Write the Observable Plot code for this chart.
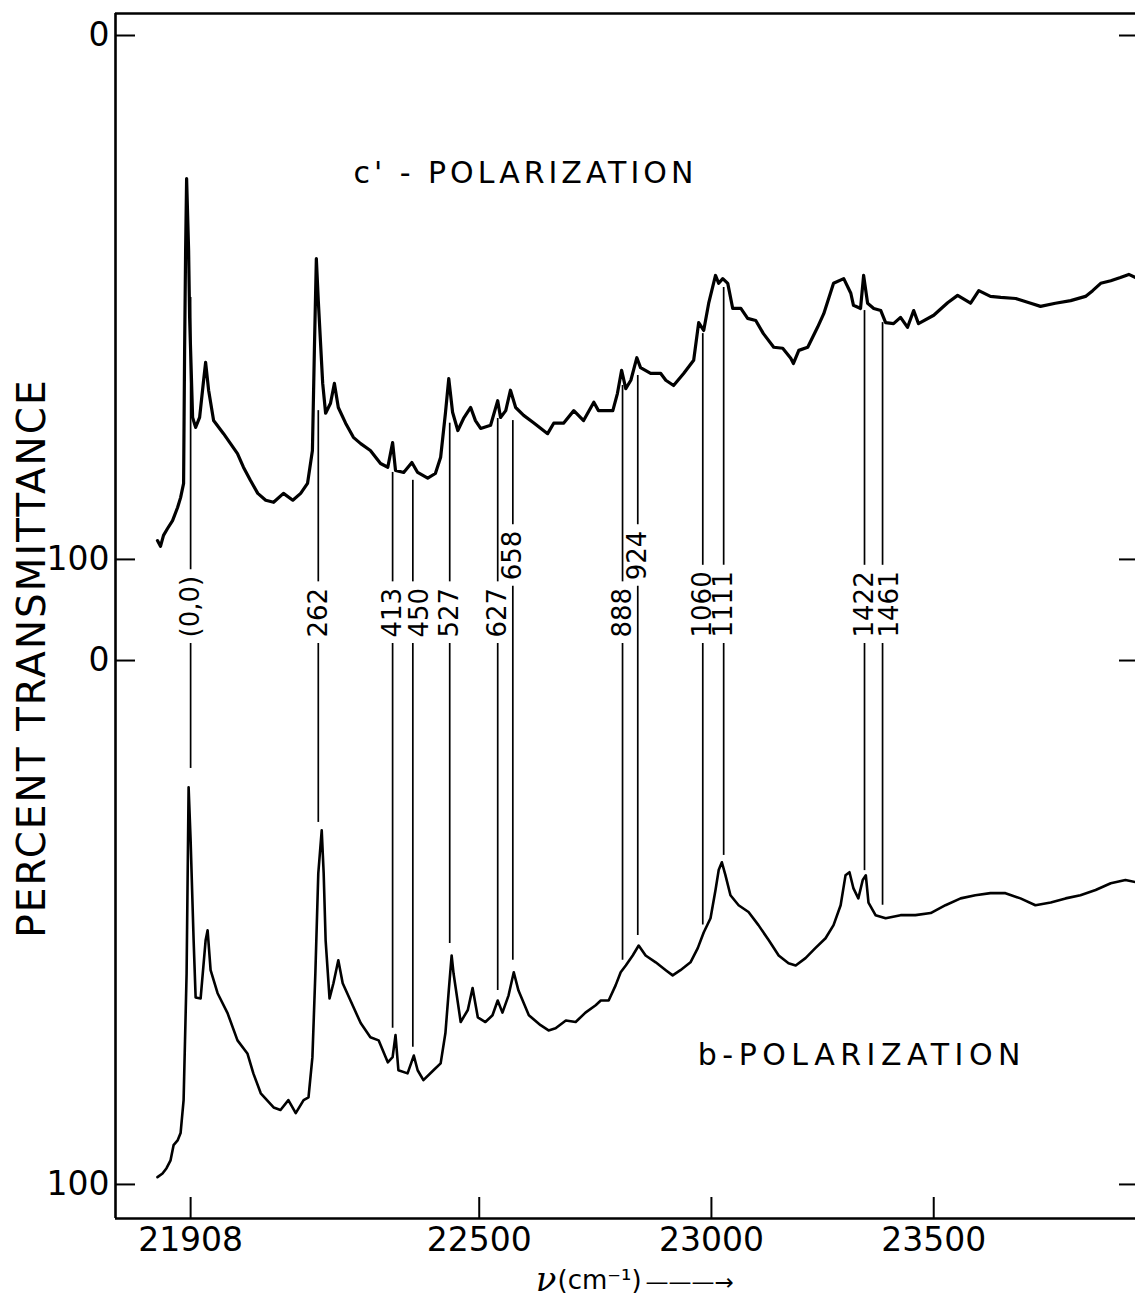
<!DOCTYPE html>
<html><head><meta charset="utf-8">
<script src="https://cdn.jsdelivr.net/npm/d3@7"></script>
<script src="https://cdn.jsdelivr.net/npm/@observablehq/plot@0.6"></script>
<style>
html,body{margin:0;padding:0;background:#fff;}
#chart{width:1135px;height:1303px;overflow:hidden;}
</style></head><body><div id="chart"></div>
<script>
// c'-polarization spectrum: wavenumber (cm^-1) and percent transmittance
const cNu = [21842,21848,21854,21862,21872,21882,21888,21894,21896,21898,21900,21904,21906,21912,21918,21926,21934,21938,21944,21954,21974,21988,22002,22014,22028,22043,22059,22075,22095,22114,22130,22144,22154,22158,22162,22166,22175,22181,22191,22199,22207,22222,22238,22253,22273,22294,22309,22319,22325,22342,22359,22371,22392,22408,22419,22429,22436,22444,22455,22467,22482,22492,22503,22524,22539,22545,22556,22566,22577,22594,22615,22645,22658,22679,22701,22722,22744,22754,22785,22795,22804,22813,22824,22837,22845,22867,22889,22900,22917,22939,22961,22972,22983,22994,23009,23016,23025,23036,23047,23065,23080,23098,23115,23138,23158,23176,23182,23194,23214,23236,23250,23272,23295,23311,23317,23333,23340,23349,23363,23379,23390,23408,23424,23440,23454,23465,23500,23532,23555,23585,23604,23631,23655,23690,23725,23748,23783,23819,23854,23871,23890,23914,23937,23957,23973];
const cT = [96.4,97.5,95.4,94.1,92.6,90.1,88.2,85.5,60.1,41.0,27.3,41.0,53.8,72.9,74.8,72.9,65.8,62.4,67.7,73.5,76.0,77.9,79.8,82.4,84.9,87.4,88.7,89.1,87.4,88.7,87.4,85.5,79.2,60.1,42.6,50.6,66.4,72.1,70.2,66.4,71.0,74.0,76.7,77.9,79.2,81.7,82.4,77.7,83.0,83.4,81.5,83.4,84.5,83.6,80.5,72.1,65.5,71.9,75.4,73.1,71.0,73.5,75.0,74.4,69.7,72.9,71.6,67.7,71.0,72.5,73.9,76.0,74.0,74.0,71.6,73.5,70.0,71.6,71.6,68.3,63.9,67.4,65.8,61.5,63.4,64.5,64.5,65.8,66.8,64.5,62.0,54.8,56.3,51.1,45.8,47.3,46.4,47.3,52.1,52.1,54.0,54.4,56.9,59.5,59.7,61.6,62.6,60.1,59.5,55.7,53.1,47.3,46.4,49.2,51.5,52.1,45.8,51.1,52.1,52.5,54.8,55.0,53.8,55.7,52.5,55.0,53.4,51.0,49.6,51.1,48.7,49.8,50.0,50.2,51.1,51.7,51.1,50.6,49.8,48.7,47.3,46.8,46.2,45.6,46.2];

// b-polarization spectrum
const bNu = [21842,21852,21860,21868,21874,21882,21888,21894,21900,21904,21908,21914,21918,21928,21938,21942,21948,21962,21982,22002,22022,22034,22049,22075,22089,22105,22120,22136,22146,22154,22160,22166,22173,22177,22181,22189,22197,22207,22216,22232,22253,22273,22290,22309,22319,22325,22331,22350,22363,22371,22383,22404,22419,22429,22436,22442,22446,22461,22476,22486,22497,22513,22528,22539,22549,22562,22573,22583,22605,22630,22647,22662,22684,22705,22726,22748,22759,22776,22791,22802,22813,22828,22841,22856,22878,22900,22915,22932,22954,22970,22983,22998,23009,23016,23023,23031,23042,23060,23082,23104,23127,23149,23171,23187,23209,23231,23254,23272,23288,23299,23308,23317,23328,23338,23345,23351,23367,23390,23424,23458,23493,23527,23562,23596,23631,23666,23701,23736,23772,23807,23842,23878,23914,23949,23973];
const bT = [98.6,97.9,96.9,95.4,92.5,91.6,90.2,83.9,59.7,24.2,34.3,53.4,64.3,64.5,53.4,51.5,59.1,63.5,67.3,72.5,75.0,78.8,82.6,85.3,85.8,83.9,86.4,83.9,83.4,75.7,59.7,40.6,32.4,40.6,53.4,64.5,61.6,57.2,61.6,64.9,69.2,71.9,72.5,76.7,75.7,71.5,78.2,78.8,75.4,78.2,80.1,78.2,76.9,71.1,63.0,56.3,59.7,69.0,66.7,62.5,68.1,69.0,67.7,64.9,67.2,63.9,59.5,63.0,67.7,69.6,70.6,70.2,68.7,69.0,67.2,65.8,64.9,64.9,62.0,59.5,58.2,56.3,54.4,56.3,57.6,59.1,60.1,59.1,57.6,54.9,51.9,49.2,43.8,40.0,38.5,41.0,44.8,46.7,48.0,50.5,53.4,56.3,57.8,58.2,56.8,54.9,53.0,50.5,46.7,41.0,40.4,43.5,45.4,41.9,41.0,46.2,48.6,49.2,48.6,48.6,48.2,46.7,45.4,44.8,44.4,44.4,45.4,46.7,46.2,45.4,44.8,43.8,42.5,41.9,42.3];

// vibronic band assignments (shift from origin), band position, and line ends (T upper / T lower)
const bandLabel = ["(0,0)","262","413","450","527","627","658","888","924","1060","1111","1422","1461"];
const bandNu = [21908,22166,22319,22361,22438,22539,22571,22806,22839,22981,23027,23342,23383];
const bandTop = [50.0,71.6,83.4,84.9,74.0,73.1,73.5,66.8,64.9,56.9,48.1,52.5,54.8];
const bandBottom = [20.6,30.9,70.2,73.8,54.0,63.0,57.2,57.2,52.5,50.5,37.2,40.1,46.7];

// panel titles
const polLabel = ["c' - POLARIZATION", "b-POLARIZATION"];
const polNu = [22238, 22970];
const polT = [26.3, 75.4];
const polPanel = [0, 1];

// axes
const xDomain = [21759, 23973];
const xTicks = [21908, 22500, 23000, 23500];
const panelTicks = [0, 100];
const yDomain = [-4.2, 225.8];
const PANEL_OFFSET = 119.3;

// the instrument scale is linear in wavelength
const WL = nu => 1e7 / nu;

const W = 1135, H = 1303, MT = 13, MB = 85;
const pxPerUnit = (H - MT - MB) / (yDomain[1] - yDomain[0]);
const LABEL_FONT = 26;

const upper = cNu.map((nu, i) => ({nu, t: cT[i]}));
const lower = bNu.map((nu, i) => ({nu, t: bT[i]}));
const bands = bandLabel.map((label, i) => ({label, nu: bandNu[i], top: bandTop[i], bottom: bandBottom[i]}));
const pols = polLabel.map((label, i) => ({label, nu: polNu[i], t: polT[i], panel: polPanel[i]}));
const yTickPos = [...panelTicks, ...panelTicks.map(v => v + PANEL_OFFSET)];

const raised = new Set(["658", "924"]);
const shifted = new Set(["450", "1461"]);
const labelY = d => raised.has(d.label) ? 104.0 : 114.9;

// measure label lengths to break the band lines around the text
const ctx = document.createElement("canvas").getContext("2d");
ctx.font = `${LABEL_FONT}px "DejaVu Sans"`;
const gap = 6 / pxPerUnit;
const segments = bands.flatMap(d => {
  const len = ctx.measureText(d.label).width / pxPerUnit;
  const y0 = labelY(d);
  return [
    {nu: d.nu, y1: d.top, y2: y0 - len - gap},
    {nu: d.nu, y1: y0 + gap, y2: d.bottom + PANEL_OFFSET}
  ];
});

const labelStyle = {
  x: d => WL(d.nu), y: labelY, text: "label", rotate: -90,
  textAnchor: "start", lineAnchor: "middle", fontSize: LABEL_FONT, fill: "black"
};

const chart = Plot.plot({
  width: W, height: H,
  marginLeft: 115, marginRight: 0, marginTop: MT, marginBottom: MB,
  style: {fontFamily: "DejaVu Sans", background: "white", color: "black", overflow: "visible"},
  x: {domain: xDomain.map(WL)},
  y: {domain: yDomain, reverse: true},
  marks: [
    Plot.ruleX([xDomain[0]], {x: WL, strokeWidth: 2.6}),
    Plot.ruleY([yDomain[0], yDomain[1]], {strokeWidth: 2.6}),
    Plot.axisX({ticks: xTicks.map(WL), tickSize: -21, strokeWidth: 2, tickFormat: () => "", label: null}),
    Plot.axisX({ticks: xTicks.map(WL), tickSize: 0, tickPadding: 9, fontSize: 33,
      tickFormat: d => String(Math.round(1e7 / d)), label: null}),
    Plot.axisY({anchor: "left", ticks: yTickPos, tickSize: -20, strokeWidth: 2, tickFormat: () => "", label: null}),
    Plot.axisY({anchor: "left", ticks: yTickPos, tickSize: 0, tickPadding: 6, fontSize: 33,
      tickFormat: d => String(Math.round(d >= PANEL_OFFSET ? d - PANEL_OFFSET : d)), label: null}),
    Plot.axisY({anchor: "right", ticks: yTickPos, tickSize: -17, strokeWidth: 2, tickFormat: () => "", label: null}),
    Plot.line(upper, {x: d => WL(d.nu), y: "t", strokeWidth: 3.2, strokeLinejoin: "round"}),
    Plot.line(lower, {x: d => WL(d.nu), y: d => d.t + PANEL_OFFSET, strokeWidth: 2.6, strokeLinejoin: "round"}),
    Plot.ruleX(segments, {x: d => WL(d.nu), y1: "y1", y2: "y2", strokeWidth: 1.7}),
    Plot.text(bands.filter(d => !shifted.has(d.label)), labelStyle),
    Plot.text(bands.filter(d => shifted.has(d.label)), {...labelStyle, dx: 7}),
    Plot.text(pols, {x: d => WL(d.nu), y: d => d.t + d.panel * PANEL_OFFSET, text: "label",
      textAnchor: "start", lineAnchor: "middle", fontSize: 30}),
    Plot.text(["PERCENT TRANSMITTANCE"], {text: d => d, frameAnchor: "left", dx: -83, dy: 42,
      rotate: -90, fontSize: 39, textAnchor: "middle", lineAnchor: "middle"}),
    Plot.text(["ν"], {text: d => d, frameAnchor: "bottom", dx: -69, dy: 62, textAnchor: "end",
      lineAnchor: "middle", fontSize: 34, fontStyle: "italic", fontFamily: "DejaVu Serif"}),
    Plot.text(["(cm⁻¹)"], {text: d => d, frameAnchor: "bottom", dx: -68, dy: 62, textAnchor: "start",
      lineAnchor: "middle", fontSize: 26}),
    Plot.text(["———→"], {text: d => d, frameAnchor: "bottom", dx: 20, dy: 64, textAnchor: "start",
      lineAnchor: "middle", fontSize: 23})
  ]
});

chart.querySelectorAll("text").forEach(t => {
  const s = t.textContent;
  if (s.startsWith("c'")) t.style.letterSpacing = "4px";
  if (s.startsWith("b-")) t.style.letterSpacing = "5.5px";
  if (s.includes("TRANSMITTANCE")) t.style.letterSpacing = "2px";
});
document.getElementById("chart").appendChild(chart);
</script></body></html>
